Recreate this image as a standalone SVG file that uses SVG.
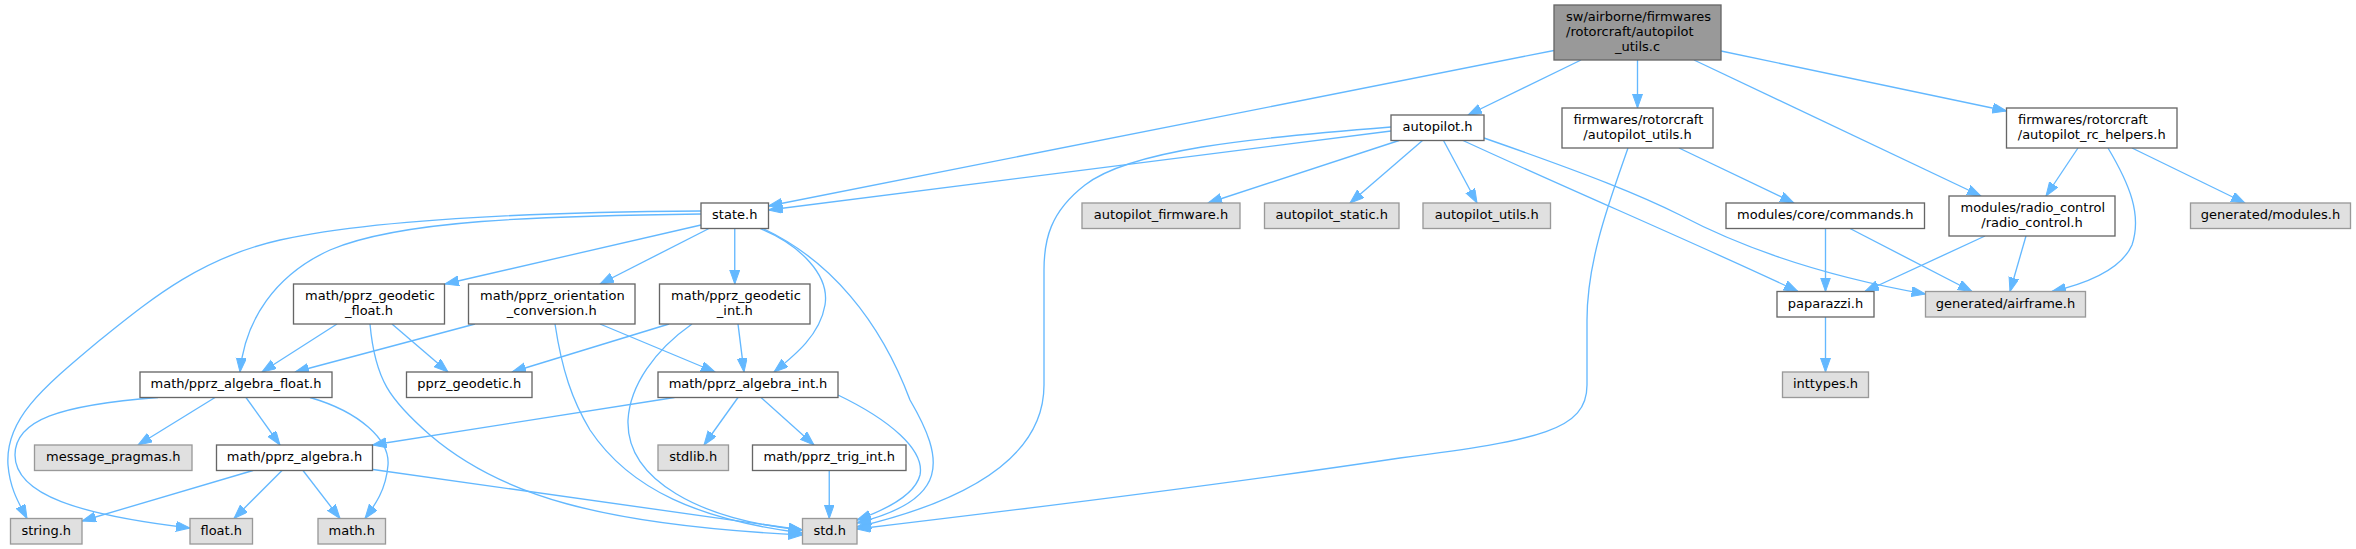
<svg xmlns="http://www.w3.org/2000/svg" width="2356" height="549" viewBox="0 0 2356 549">
<defs>
<style>
rect{stroke-width:1.33}
.w rect{fill:#ffffff;stroke:#666666}
.g rect{fill:#e0e0e0;stroke:#999999}
.m rect{fill:#999999;stroke:#666666}
text{font-family:"DejaVu Sans",sans-serif;font-size:13px;fill:#000000}
.c{text-anchor:middle}
.s{text-anchor:start}
#edges path{fill:none;stroke:#63b8ff;stroke-width:1.33;marker-end:url(#ah)}
</style>
<marker id="ah" markerUnits="userSpaceOnUse" markerWidth="15" markerHeight="11" refX="14" refY="5" orient="auto">
<path d="M0,0 L14,5 L0,10 z" fill="#63b8ff" stroke="#63b8ff" stroke-width="1"/>
</marker>
</defs>
<rect width="2356" height="549" fill="#ffffff"/>
<g id="edges">
<path d="M1554,50.5 L768.5,206"/>
<path d="M1581,60 L1468,115"/>
<path d="M1637.5,60 L1637.5,108"/>
<path d="M1694,60 L1981,196"/>
<path d="M1721,51 L2006.5,111"/>
<path d="M1391,131 L768.5,210"/>
<path d="M1391,127 C1250,138 1130,150 1085,185 C1050,212 1044,240 1044,270 L1044,385 C1044,465 950,505 857,527"/>
<path d="M1399,140.5 L1208,203"/>
<path d="M1422.5,140.5 L1350,203"/>
<path d="M1443.5,140.5 L1477,203"/>
<path d="M1463,140.5 C1570,190 1700,245 1798,291.5"/>
<path d="M1484,138 C1590,175 1640,195 1680,215 C1720,236 1800,272 1925.5,294"/>
<path d="M1628,148 C1610,200 1587,260 1587,320 L1587,385 C1587,430 1540,440 1400,458 C1200,488 1000,512 857,529"/>
<path d="M1679,148 L1794,203"/>
<path d="M2078,148 L2046,196"/>
<path d="M2108,148 C2130,185 2142,215 2132,245 C2120,272 2080,285 2052,291.5"/>
<path d="M2132,148 L2245,203"/>
<path d="M1825.5,228.5 L1825.5,291.5"/>
<path d="M1850,228.5 L1972,291.5"/>
<path d="M1985,236 L1865,291.5"/>
<path d="M2026,236 L2010,291.5"/>
<path d="M1825.5,317 L1825.5,372"/>
<path d="M701,225 L445,284"/>
<path d="M709,228.5 L600,284"/>
<path d="M734.75,228.5 L734.75,284"/>
<path d="M701,214 C540,216 400,220 330,250 C275,275 245,320 240,372"/>
<path d="M701,211 C550,212 380,218 280,240 C200,258 150,300 100,340 C40,390 5,420 8,465 C10,490 20,505 27,518.5"/>
<path d="M760,228.5 C800,245 830,275 825,305 C820,335 795,355 774,372"/>
<path d="M763,228.5 C830,260 880,320 910,400 C945,460 950,500 857,523"/>
<path d="M337,324 L262,372"/>
<path d="M392,324 L448,372"/>
<path d="M370,324 C375,380 390,400 430,435 C500,495 600,525 802.5,535"/>
<path d="M475,324 L295,372"/>
<path d="M600,324 L715,372"/>
<path d="M555,324 C562,370 572,400 590,430 C630,490 700,520 802.5,533"/>
<path d="M669,324 L512,372"/>
<path d="M738,324 L744,372"/>
<path d="M692,324 C655,350 630,385 628,420 C626,480 700,520 802.5,530"/>
<path d="M215,397.5 L138,445"/>
<path d="M246,397.5 L280,445"/>
<path d="M158,397.5 C60,405 15,420 15,455 C15,495 80,515 190,528"/>
<path d="M310,397.5 C360,412 390,440 388,465 C386,490 375,505 365,518.5"/>
<path d="M674.5,397.5 L372.5,445"/>
<path d="M738,397.5 L704,445"/>
<path d="M761,397.5 L814,445"/>
<path d="M838,395 C890,420 925,450 920,475 C915,495 885,510 857,520"/>
<path d="M253,470.5 L82,521"/>
<path d="M282,470.5 L234,518.5"/>
<path d="M303,470.5 L340,518.5"/>
<path d="M373,469.5 L802.5,530"/>
<path d="M829.25,470.5 L829.25,518.5"/>
</g>
<g id="n_main" class="m"><rect x="1554" y="5" width="167" height="55"/><text class="s" x="1566" y="20.7">sw/airborne/firmwares</text><text class="s" x="1566" y="35.7">/rotorcraft/autopilot</text><text class="c" x="1637.5" y="50.7">_utils.c</text></g>
<g id="n_autopilot" class="w"><rect x="1391" y="115" width="93" height="25.5"/><text class="c" x="1437.5" y="131.2">autopilot.h</text></g>
<g id="n_fw_utils" class="w"><rect x="1562" y="108" width="151" height="40"/><text class="s" x="1573.5" y="124.2">firmwares/rotorcraft</text><text class="c" x="1637.5" y="138.7">/autopilot_utils.h</text></g>
<g id="n_rc_helpers" class="w"><rect x="2006.5" y="108" width="170.5" height="40"/><text class="s" x="2018" y="124.2">firmwares/rotorcraft</text><text class="c" x="2091.75" y="138.7">/autopilot_rc_helpers.h</text></g>
<g id="n_state" class="w"><rect x="701" y="203" width="67.5" height="25.5"/><text class="c" x="734.75" y="219.2">state.h</text></g>
<g id="n_ap_firmware" class="g"><rect x="1082" y="203" width="158" height="25.5"/><text class="c" x="1161" y="219.2">autopilot_firmware.h</text></g>
<g id="n_ap_static" class="g"><rect x="1264.5" y="203" width="134.5" height="25.5"/><text class="c" x="1331.75" y="219.2">autopilot_static.h</text></g>
<g id="n_ap_utils" class="g"><rect x="1423" y="203" width="127.5" height="25.5"/><text class="c" x="1486.75" y="219.2">autopilot_utils.h</text></g>
<g id="n_commands" class="w"><rect x="1726" y="203" width="198.5" height="25.5"/><text class="c" x="1825.25" y="219.2">modules/core/commands.h</text></g>
<g id="n_radio" class="w"><rect x="1949" y="196" width="166" height="40"/><text class="s" x="1960.5" y="212.2">modules/radio_control</text><text class="c" x="2032" y="226.7">/radio_control.h</text></g>
<g id="n_gen_modules" class="g"><rect x="2190.5" y="203" width="160" height="25.5"/><text class="c" x="2270.5" y="219.2">generated/modules.h</text></g>
<g id="n_geo_float" class="w"><rect x="293.5" y="284" width="151" height="40"/><text class="s" x="305" y="300.2">math/pprz_geodetic</text><text class="c" x="369" y="314.7">_float.h</text></g>
<g id="n_orient" class="w"><rect x="468.5" y="284" width="166.5" height="40"/><text class="s" x="480" y="300.2">math/pprz_orientation</text><text class="c" x="551.75" y="314.7">_conversion.h</text></g>
<g id="n_geo_int" class="w"><rect x="659.5" y="284" width="150.5" height="40"/><text class="s" x="671" y="300.2">math/pprz_geodetic</text><text class="c" x="734.75" y="314.7">_int.h</text></g>
<g id="n_paparazzi" class="w"><rect x="1777" y="291.5" width="97" height="25.5"/><text class="c" x="1825.5" y="307.7">paparazzi.h</text></g>
<g id="n_airframe" class="g"><rect x="1925.5" y="291.5" width="160" height="25.5"/><text class="c" x="2005.5" y="307.7">generated/airframe.h</text></g>
<g id="n_alg_float" class="w"><rect x="140" y="372" width="192" height="25.5"/><text class="c" x="236" y="388.2">math/pprz_algebra_float.h</text></g>
<g id="n_pprz_geodetic" class="w"><rect x="406.5" y="372" width="125.5" height="25.5"/><text class="c" x="469.25" y="388.2">pprz_geodetic.h</text></g>
<g id="n_alg_int" class="w"><rect x="658" y="372" width="180" height="25.5"/><text class="c" x="748" y="388.2">math/pprz_algebra_int.h</text></g>
<g id="n_inttypes" class="g"><rect x="1782.5" y="372" width="86" height="25.5"/><text class="c" x="1825.5" y="388.2">inttypes.h</text></g>
<g id="n_msg_pragmas" class="g"><rect x="34.5" y="445" width="157.5" height="25.5"/><text class="c" x="113.25" y="461.2">message_pragmas.h</text></g>
<g id="n_alg" class="w"><rect x="216.5" y="445" width="156" height="25.5"/><text class="c" x="294.5" y="461.2">math/pprz_algebra.h</text></g>
<g id="n_stdlib" class="g"><rect x="658" y="445" width="70.5" height="25.5"/><text class="c" x="693.25" y="461.2">stdlib.h</text></g>
<g id="n_trig_int" class="w"><rect x="752.5" y="445" width="153.5" height="25.5"/><text class="c" x="829.25" y="461.2">math/pprz_trig_int.h</text></g>
<g id="n_string" class="g"><rect x="10.5" y="518.5" width="71.5" height="25.5"/><text class="c" x="46.25" y="534.7">string.h</text></g>
<g id="n_float" class="g"><rect x="190" y="518.5" width="62.5" height="25.5"/><text class="c" x="221.25" y="534.7">float.h</text></g>
<g id="n_math" class="g"><rect x="318" y="518.5" width="67.5" height="25.5"/><text class="c" x="351.75" y="534.7">math.h</text></g>
<g id="n_std" class="g"><rect x="802.5" y="518.5" width="54.5" height="25.5"/><text class="c" x="829.75" y="534.7">std.h</text></g>
</svg>
